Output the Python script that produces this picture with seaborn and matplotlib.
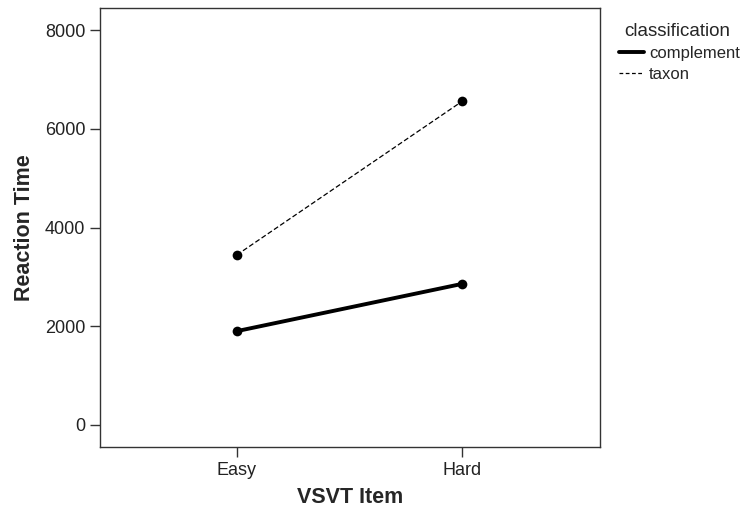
import matplotlib
matplotlib.use("Agg")
import matplotlib.pyplot as plt
from matplotlib.lines import Line2D
import seaborn as sns
import pandas as pd

items = ["Easy", "Hard"]
classes = ["complement", "taxon"]
complement_rt = [1900, 2860]
taxon_rt = [3445, 6565]

df = pd.DataFrame({
    "VSVT Item": items * 2,
    "Reaction Time": complement_rt + taxon_rt,
    "classification": [classes[0]] * 2 + [classes[1]] * 2,
})

sns.set_style("ticks")
plt.rcParams["font.family"] = ["Liberation Sans", "DejaVu Sans"]

fig = plt.figure(figsize=(7.42, 5.08), dpi=100)
ax = fig.add_axes([0.1348, 0.12, 0.674, 0.864])

sns.pointplot(data=df, x="VSVT Item", y="Reaction Time", hue="classification",
              hue_order=classes, order=items, palette=["black", "black"],
              linestyles=["-", "--"], markers=["o", "o"], errorbar=None,
              markersize=6, ax=ax, legend=False)

widths = {0: 2.8, 1: 0.9}
for i, line in enumerate(ax.lines[:2]):
    line.set_linewidth(widths[i])
    line.set_markeredgewidth(0)
    line.set_markersize(7)
if len(ax.lines) > 1:
    ax.lines[1].set_dashes([4, 2])

ax.set_xlim(-0.606, 1.61)
ax.set_ylim(-450, 8450)
ax.set_yticks([0, 2000, 4000, 6000, 8000])
ax.set_xlabel("VSVT Item", fontsize=15.5, fontweight="bold", labelpad=6)
ax.set_ylabel("Reaction Time", fontsize=15.5, fontweight="bold", labelpad=7)
ax.tick_params(axis="both", labelsize=13, length=7, width=1, color="#333333", labelcolor="#222222")
for s in ax.spines.values():
    s.set_visible(True)
    s.set_color("#333333")
    s.set_linewidth(1)

handles = [Line2D([0], [0], color="black", lw=2.8),
           Line2D([0], [0], color="black", lw=0.9, dashes=[3, 2])]
leg = fig.legend(handles, classes, title="classification", loc="upper left",
                 bbox_to_anchor=(0.834, 0.955), frameon=False, fontsize=12,
                 title_fontsize=13.5, handlelength=1.5, handletextpad=0.3,
                 labelspacing=0.35, borderaxespad=0, borderpad=0, alignment="left")
leg.get_title().set_position((5, 0))

fig.savefig("out.png", dpi=100)
